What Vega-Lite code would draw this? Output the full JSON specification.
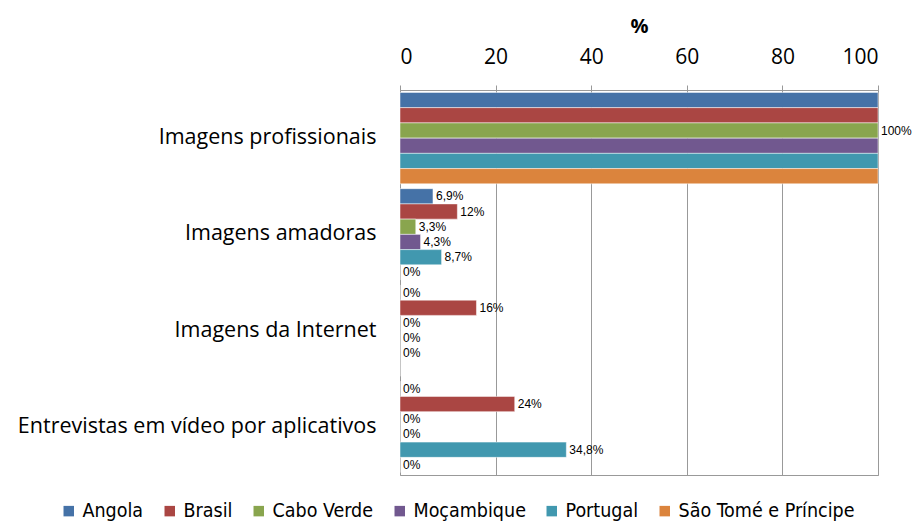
{
  "$schema": "https://vega.github.io/schema/vega-lite/v6.json",
  "width": 478,
  "height": 385,
  "autosize": "none",
  "padding": {"left": 400, "top": 90, "right": 44, "bottom": 46},
  "background": "white",
  "config": {
    "view": {"stroke": "#999999", "strokeWidth": 1},
    "font": "Open Sans"
  },
  "data": {
    "values": [
      {"categoria": "Imagens profissionais", "pais": "Angola", "valor": 100, "label": ""},
      {"categoria": "Imagens profissionais", "pais": "Brasil", "valor": 100, "label": ""},
      {"categoria": "Imagens profissionais", "pais": "Cabo Verde", "valor": 100, "label": "100%"},
      {"categoria": "Imagens profissionais", "pais": "Moçambique", "valor": 100, "label": ""},
      {"categoria": "Imagens profissionais", "pais": "Portugal", "valor": 100, "label": ""},
      {"categoria": "Imagens profissionais", "pais": "São Tomé e Príncipe", "valor": 100, "label": ""},
      {"categoria": "Imagens amadoras", "pais": "Angola", "valor": 6.9, "label": "6,9%"},
      {"categoria": "Imagens amadoras", "pais": "Brasil", "valor": 12, "label": "12%"},
      {"categoria": "Imagens amadoras", "pais": "Cabo Verde", "valor": 3.3, "label": "3,3%"},
      {"categoria": "Imagens amadoras", "pais": "Moçambique", "valor": 4.3, "label": "4,3%"},
      {"categoria": "Imagens amadoras", "pais": "Portugal", "valor": 8.7, "label": "8,7%"},
      {"categoria": "Imagens amadoras", "pais": "São Tomé e Príncipe", "valor": 0, "label": "0%"},
      {"categoria": "Imagens da Internet", "pais": "Angola", "valor": 0, "label": "0%"},
      {"categoria": "Imagens da Internet", "pais": "Brasil", "valor": 16, "label": "16%"},
      {"categoria": "Imagens da Internet", "pais": "Cabo Verde", "valor": 0, "label": "0%"},
      {"categoria": "Imagens da Internet", "pais": "Moçambique", "valor": 0, "label": "0%"},
      {"categoria": "Imagens da Internet", "pais": "Portugal", "valor": 0, "label": "0%"},
      {"categoria": "Imagens da Internet", "pais": "São Tomé e Príncipe", "valor": 0, "label": ""},
      {"categoria": "Entrevistas em vídeo por aplicativos", "pais": "Angola", "valor": 0, "label": "0%"},
      {"categoria": "Entrevistas em vídeo por aplicativos", "pais": "Brasil", "valor": 24, "label": "24%"},
      {"categoria": "Entrevistas em vídeo por aplicativos", "pais": "Cabo Verde", "valor": 0, "label": "0%"},
      {"categoria": "Entrevistas em vídeo por aplicativos", "pais": "Moçambique", "valor": 0, "label": "0%"},
      {"categoria": "Entrevistas em vídeo por aplicativos", "pais": "Portugal", "valor": 34.8, "label": "34,8%"},
      {"categoria": "Entrevistas em vídeo por aplicativos", "pais": "São Tomé e Príncipe", "valor": 0, "label": "0%"}
    ]
  },
  "encoding": {
    "y": {
      "field": "categoria",
      "type": "nominal",
      "sort": ["Imagens profissionais", "Imagens amadoras", "Imagens da Internet", "Entrevistas em vídeo por aplicativos"],
      "scale": {"paddingInner": 0.05, "paddingOuter": 0.025},
      "axis": {
        "title": null,
        "ticks": false,
        "domain": false,
        "labelFontSize": 21.5,
        "labelColor": "#000000",
        "labelPadding": 24,
        "labelLimit": 0,
        "labelFont": "Open Sans"
      }
    },
    "yOffset": {
      "field": "pais",
      "type": "nominal",
      "sort": ["Angola", "Brasil", "Cabo Verde", "Moçambique", "Portugal", "São Tomé e Príncipe"],
      "scale": {"paddingInner": 0, "paddingOuter": 0}
    },
    "x": {
      "field": "valor",
      "type": "quantitative",
      "scale": {"domain": [0, 100], "nice": false},
      "axis": {
        "orient": "top",
        "title": "%",
        "titleFontSize": 20,
        "titleFontWeight": "bold",
        "titleColor": "#000000",
        "titlePadding": 10,
        "values": [0, 20, 40, 60, 80, 100],
        "labelFontSize": 21,
        "labelColor": "#000000",
        "labelPadding": 18,
        "domain": false,
        "tickColor": "#999999",
        "tickSize": 5,
        "grid": true,
        "gridColor": "#999999",
        "gridWidth": 1
      }
    }
  },
  "layer": [
    {
      "mark": {"type": "bar", "stroke": "white", "strokeWidth": 0.5},
      "encoding": {
        "color": {
          "field": "pais",
          "type": "nominal",
          "sort": ["Angola", "Brasil", "Cabo Verde", "Moçambique", "Portugal", "São Tomé e Príncipe"],
          "scale": {
            "domain": ["Angola", "Brasil", "Cabo Verde", "Moçambique", "Portugal", "São Tomé e Príncipe"],
            "range": ["#4572A7", "#AA4643", "#89A54E", "#71588F", "#4198AF", "#DB843D"]
          },
          "legend": {
            "title": null,
            "orient": "none",
            "direction": "horizontal",
            "legendX": -341,
            "legendY": 411,
            "symbolType": "square",
            "symbolSize": 110,
            "symbolStrokeWidth": 0,
            "labelFontSize": 19.5,
            "labelColor": "#000000",
            "labelFont": "Liberation Sans Narrow, DejaVu Sans Condensed, sans-serif",
            "labelLimit": 0,
            "columnPadding": 16,
            "labelOffset": 4
          }
        }
      }
    },
    {
      "mark": {"type": "text", "align": "left", "baseline": "middle", "dx": 3, "fontSize": 12, "font": "Liberation Sans", "color": "#000000"},
      "encoding": {
        "text": {"field": "label"}
      }
    }
  ]
}
